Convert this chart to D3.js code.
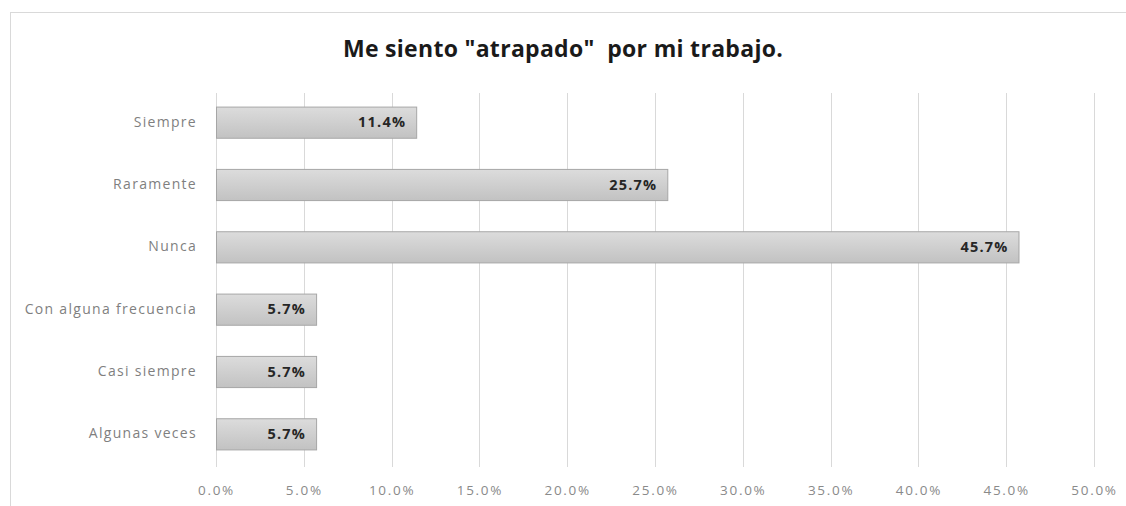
<!DOCTYPE html>
<html>
<head>
<meta charset="utf-8">
<script src="https://cdn.jsdelivr.net/npm/d3@7"></script>
<style>
  body { margin: 0; background: #fff; }
  svg { display: block; font-family: "Open Sans", Lato, sans-serif; }
</style>
</head>
<body>
<svg id="chart" width="1126" height="506"></svg>
<script>
// Survey answers, top to bottom
const categories = ["Siempre", "Raramente", "Nunca", "Con alguna frecuencia", "Casi siempre", "Algunas veces"];
const values = [11.4, 25.7, 45.7, 5.7, 5.7, 5.7];
const tickValues = [0, 5, 10, 15, 20, 25, 30, 35, 40, 45, 50];
const title = "Me siento \"atrapado\"  por mi trabajo.";

const svg = d3.select("#chart");
const W = 1126, H = 506;
const margin = { left: 216, right: 32, top: 91, bottom: 41 };
const FONT = "'Open Sans', Lato, sans-serif";

// chart frame
svg.append("rect")
  .attr("x", 10.5).attr("y", 12.5)
  .attr("width", W + 10).attr("height", H + 10)
  .attr("fill", "#fff").attr("stroke", "#d9d9d9").attr("stroke-width", 1);

const x = d3.scaleLinear().domain([0, 50]).range([margin.left, 1094]);
const y = d3.scaleBand().domain(categories)
  .range([margin.top, H - margin.bottom]).paddingInner(0.5).paddingOuter(0.25);

// gradient for bars
const defs = svg.append("defs");
const grad = defs.append("linearGradient").attr("id", "barGrad")
  .attr("x1", 0).attr("y1", 0).attr("x2", 0).attr("y2", 1);
grad.append("stop").attr("offset", "0%").attr("stop-color", "#dcdcdc");
grad.append("stop").attr("offset", "100%").attr("stop-color", "#c2c2c2");

// vertical gridlines
svg.append("g").selectAll("line").data(tickValues).join("line")
  .attr("x1", d => Math.round(x(d)) + 0.5).attr("x2", d => Math.round(x(d)) + 0.5)
  .attr("y1", 93).attr("y2", 467)
  .attr("stroke", "#d9d9d9").attr("stroke-width", 1);

// x axis labels
const xAxis = d3.axisBottom(x).tickValues(tickValues)
  .tickFormat(d => d.toFixed(1) + "%").tickSize(0).tickPadding(0);
const gx = svg.append("g").attr("transform", "translate(0,485)").call(xAxis)
  .attr("font-family", FONT);
gx.select(".domain").remove();
gx.selectAll("text").attr("fill", "#8a8a8a").attr("font-size", 13.5)
  .attr("letter-spacing", 1.7).attr("dy", "0.71em");

// category labels
const yAxis = d3.axisLeft(y).tickSize(0).tickPadding(19);
const gy = svg.append("g").attr("transform", `translate(${margin.left},0)`).call(yAxis)
  .attr("font-family", FONT);
gy.select(".domain").remove();
gy.selectAll("text").attr("fill", "#7f7f7f").attr("font-size", 14)
  .attr("letter-spacing", 1.3);

// bars
svg.append("g").selectAll("rect").data(values).join("rect")
  .attr("x", x(0) + 0.5)
  .attr("y", (d, i) => y(categories[i]) + 0.5)
  .attr("width", d => x(d) - x(0))
  .attr("height", y.bandwidth())
  .attr("fill", "url(#barGrad)")
  .attr("stroke", "#a6a6a6").attr("stroke-width", 1);

// value labels
svg.append("g").selectAll("text").data(values).join("text")
  .attr("x", d => x(d) - 10)
  .attr("y", (d, i) => y(categories[i]) + y.bandwidth() / 2)
  .attr("dy", "0.35em")
  .attr("text-anchor", "end")
  .attr("font-size", 14.5).attr("font-weight", "bold").attr("fill", "#262626")
  .attr("letter-spacing", 1.2)
  .text(d => d.toFixed(1) + "%");

// title
svg.append("text").attr("x", 563).attr("y", 57)
  .attr("text-anchor", "middle").attr("font-size", 23).attr("font-weight", "bold")
  .attr("letter-spacing", 0.3)
  .attr("fill", "#1a1a1a").attr("xml:space", "preserve").style("white-space", "pre")
  .text(title);
</script>
</body>
</html>
